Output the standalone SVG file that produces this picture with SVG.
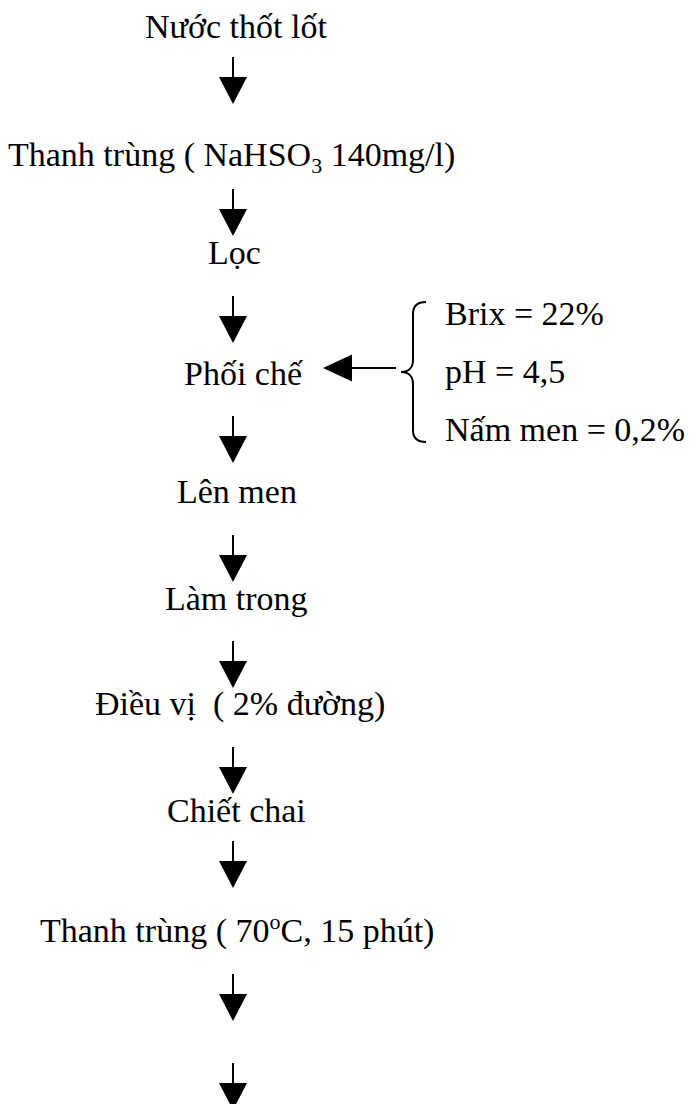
<svg xmlns="http://www.w3.org/2000/svg" width="693" height="1104" viewBox="0 0 693 1104">
<defs>
<style>
text{font-family:"Liberation Serif","Times New Roman",serif;font-size:34px;fill:#000;white-space:pre}
.ln{stroke:#000;stroke-width:2;fill:none}
.hd{fill:#000;stroke:none}
.sub{font-size:22px}
</style>
<path id="va" d="M0,0 V21"/>
</defs>
<rect width="693" height="1104" fill="#fff"/>
<g id="connectors">
<g transform="translate(233,57)"><use href="#va" class="ln"/><polygon class="hd" points="-14,20 14,20 0,47"/></g>
<g transform="translate(233,189)"><use href="#va" class="ln"/><polygon class="hd" points="-14,20 14,20 0,47"/></g>
<g transform="translate(233,296)"><use href="#va" class="ln"/><polygon class="hd" points="-14,20 14,20 0,47"/></g>
<g transform="translate(233,416)"><use href="#va" class="ln"/><polygon class="hd" points="-14,20 14,20 0,47"/></g>
<g transform="translate(233,535)"><use href="#va" class="ln"/><polygon class="hd" points="-14,20 14,20 0,47"/></g>
<g transform="translate(233,641)"><use href="#va" class="ln"/><polygon class="hd" points="-14,20 14,20 0,47"/></g>
<g transform="translate(233,747)"><use href="#va" class="ln"/><polygon class="hd" points="-14,20 14,20 0,47"/></g>
<g transform="translate(233,841)"><use href="#va" class="ln"/><polygon class="hd" points="-14,20 14,20 0,47"/></g>
<g transform="translate(233,974)"><use href="#va" class="ln"/><polygon class="hd" points="-14,20 14,20 0,47"/></g>
<g transform="translate(233,1063)"><use href="#va" class="ln"/><polygon class="hd" points="-14,20 14,20 0,47"/></g>
<line class="ln" x1="396" y1="368" x2="350" y2="368"/>
<polygon class="hd" points="323,368 352,354.5 352,381.5"/>
</g>
<g id="n1"><text x="145" y="38">Nước thốt lốt</text></g>
<g id="n2"><text x="8" y="166">Thanh trùng ( NaHSO<tspan class="sub" dy="7">3</tspan><tspan dy="-7"> 140mg/l)</tspan></text></g>
<g id="n3"><text x="208" y="264">Lọc</text></g>
<g id="n4"><text x="184" y="385">Phối chế</text></g>
<g id="additives">
<path class="ln" d="M426,302 C417,302 413,306 413,314 V360 C413,368 408,372 401,372 C408,372 413,376 413,384 V430 C413,438 417,442 426,442"/>
<text x="445" y="325">Brix = 22%</text>
<text x="445" y="383">pH = 4,5</text>
<text x="445" y="441">Nấm men = 0,2%</text>
</g>
<g id="n5"><text x="177" y="503">Lên men</text></g>
<g id="n6"><text x="165" y="610">Làm trong</text></g>
<g id="n7"><text x="95" y="715">Điều vị  ( 2% đường)</text></g>
<g id="n8"><text x="167" y="822">Chiết chai</text></g>
<g id="n9"><text x="40" y="942">Thanh trùng ( 70<tspan class="sub" dy="-13">o</tspan><tspan dy="13">C, 15 phút)</tspan></text></g>
</svg>
